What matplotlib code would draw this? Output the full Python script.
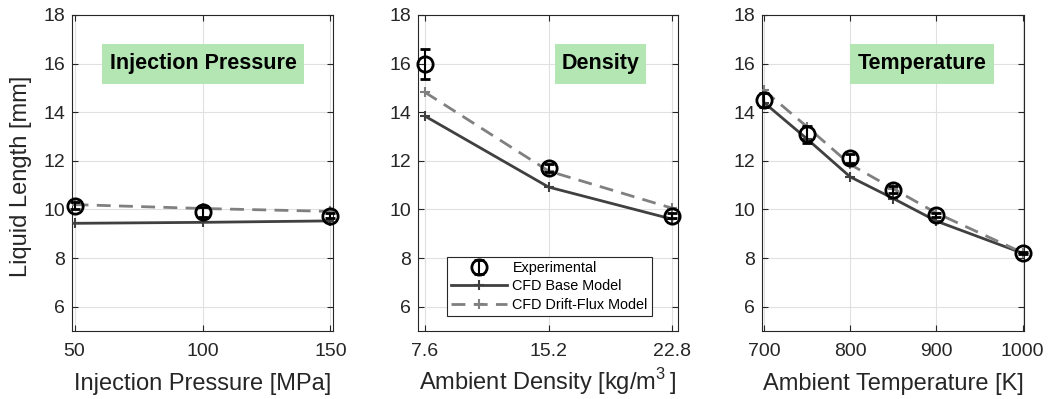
"""Liquid length sensitivity: experiment vs. CFD base and drift-flux models."""

import matplotlib.pyplot as plt
from matplotlib.patches import Rectangle

plt.rcParams["font.family"] = ["Liberation Sans", "DejaVu Sans"]
plt.rcParams["mathtext.fontset"] = "custom"
plt.rcParams["mathtext.rm"] = "Liberation Sans"

# injection pressure sweep [MPa]
pressure = [50, 100, 150]
pressure_exp = [10.15, 9.9, 9.75]
pressure_err = [0.15, 0.2, 0.12]
pressure_base = [9.43, 9.47, 9.53]
pressure_drift = [10.2, 10.04, 9.92]

# ambient density sweep [kg/m^3]
density = [7.6, 15.2, 22.8]
density_exp = [16.0, 11.7, 9.75]
density_err = [0.62, 0.15, 0.1]
density_base = [13.84, 10.92, 9.6]
density_drift = [14.82, 11.58, 10.05]

# ambient temperature sweep [K]
temperature = [700, 750, 800, 850, 900, 1000]
temperature_exp = [14.5, 13.1, 12.1, 10.82, 9.77, 8.22]
temperature_err = [0.3, 0.35, 0.2, 0.15, 0.1, 0.05]
temperature_base = [14.4, 12.9, 11.34, 10.45, 9.52, 8.2]
temperature_drift = [14.9, 13.4, 11.85, 10.85, 9.85, 8.22]

TEXT = "#262626"
BOX_GREEN = "#b3e6b3"

panels = [
    dict(x=pressure, exp=pressure_exp, err=pressure_err, base=pressure_base,
         drift=pressure_drift, xlim=(49, 151), xticks=[50, 100, 150],
         xticklabels=["50", "100", "150"], xlabel="Injection Pressure [MPa]",
         tag="Injection Pressure", box=(0.115, 0.889)),
    dict(x=density, exp=density_exp, err=density_err, base=density_base,
         drift=density_drift, xlim=(7.17, 23.15), xticks=[7.6, 15.2, 22.8],
         xticklabels=["7.6", "15.2", "22.8"],
         xlabel=r"Ambient Density [kg/m$^{\mathrm{3}}\,$]", tag="Density",
         box=(0.527, 0.877)),
    dict(x=temperature, exp=temperature_exp, err=temperature_err,
         base=temperature_base, drift=temperature_drift, xlim=(697.7, 1001.5),
         xticks=[700, 800, 900, 1000],
         xticklabels=["700", "800", "900", "1000"],
         xlabel="Ambient Temperature [K]", tag="Temperature",
         box=(0.336, 0.885)),
]

fig = plt.figure(figsize=(10.48, 3.99), dpi=100)
W, H = 1048, 399
lefts = [72, 418, 762]
widths = [261, 260, 262]
top, bottom = 15, 331

for i, p in enumerate(panels):
    ax = fig.add_axes([lefts[i] / W, 1 - bottom / H, widths[i] / W, (bottom - top) / H])
    ax.plot(p["x"], p["base"], "-", color="#404040", lw=2, marker="+",
            ms=7, mew=1.5, label="CFD Base Model", zorder=3)
    ax.plot(p["x"], p["drift"], "--", color="#808080", lw=2, marker="+",
            ms=7, mew=1.5, dashes=(5, 3), label="CFD Drift-Flux Model", zorder=3)
    eb = ax.errorbar(p["x"], p["exp"], yerr=p["err"], fmt="o", mfc="none",
                     mec="black", ms=11, mew=2, ecolor="black", elinewidth=1.5,
                     capsize=3.5, capthick=1.5, label="Experimental", zorder=4)
    for artist in eb.get_children():
        artist.set_clip_on(False)

    ax.set_xlim(*p["xlim"])
    ax.set_ylim(5, 18)
    ax.set_xticks(p["xticks"])
    ax.set_xticklabels(p["xticklabels"])
    ax.set_yticks([6, 8, 10, 12, 14, 16, 18])
    ax.grid(True, color="#e0e0e0", lw=0.8)
    ax.set_axisbelow(True)
    ax.tick_params(direction="in", top=True, right=True, length=4,
                   labelsize=14, colors=TEXT)
    ax.tick_params(axis="x", pad=9)
    ax.tick_params(axis="y", pad=5)
    for spine in ax.spines.values():
        spine.set_color(TEXT)
        spine.set_linewidth(0.8)
    ax.text(0.5, -0.187, p["xlabel"], transform=ax.transAxes, ha="center",
            va="baseline", fontsize=17, color=TEXT)
    if i == 0:
        ax.set_ylabel("Liquid Length [mm]", fontsize=17, color=TEXT)
        ax.yaxis.set_label_coords(-0.153, 0.49)

    x0, x1 = p["box"]
    ax.add_patch(Rectangle((x0, 0.782), x1 - x0, 0.126, transform=ax.transAxes,
                           fc=BOX_GREEN, ec="none", zorder=5))
    ax.text((x0 + x1) / 2, 0.845, p["tag"], transform=ax.transAxes, ha="center",
            va="center", fontsize=15.5, fontweight="bold", color="black",
            zorder=6)

    if i == 1:
        handles, labels = ax.get_legend_handles_labels()
        order = [2, 0, 1]
        leg = ax.legend([handles[k] for k in order], [labels[k] for k in order],
                        loc="lower right", bbox_to_anchor=(0.9, 0.047),
                        fontsize=10.4, frameon=True, fancybox=False,
                        edgecolor=TEXT, framealpha=1, handlelength=3.9,
                        borderpad=0.3, labelspacing=0.3, handletextpad=0.35,
                        borderaxespad=0)
        leg.get_frame().set_linewidth(0.8)
        leg.set_zorder(7)

fig.savefig("out.png", dpi=100)
